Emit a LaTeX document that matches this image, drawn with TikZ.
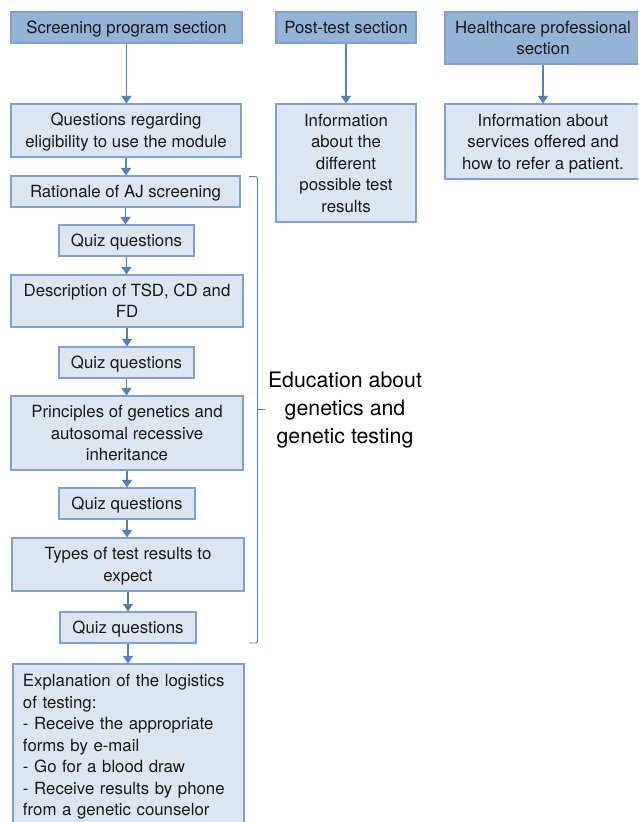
\documentclass[tikz,border=0pt]{standalone}
\usepackage{fontspec}
\setmainfont{TeX Gyre Heros}
\usetikzlibrary{arrows.meta}
\definecolor{hdrfill}{RGB}{149,179,215}
\definecolor{boxfill}{RGB}{220,230,242}
\definecolor{boxline}{RGB}{126,160,210}
\definecolor{arrowc}{RGB}{79,129,189}
\newcommand\mytopstrut{\rule{0pt}{16pt}}
\newcommand\mybotstrut{\rule[-4pt]{0pt}{4pt}}
\tikzset{
  base/.style={draw=boxline, line width=1.2pt, inner sep=0pt, align=center,
    font=\fontsize{16.8}{21.5}\selectfont, text=black!90,
    execute at end node=\mybotstrut},
  hdr/.style={base, fill=hdrfill},
  bx/.style={base, fill=boxfill},
  arr/.style={draw=arrowc, line width=1.5pt, -{Triangle[width=10pt,length=7.5pt]}},
  brk/.style={draw=arrowc, line width=0.9pt}
}
\begin{document}
\begin{tikzpicture}[x=1pt,y=-1pt]
\useasboundingbox (0,0) rectangle (638,822);
\clip (0,0) rectangle (638,822);
% left column
\node[hdr, minimum width=231pt, minimum height=31pt] (s1) at (126.5,27.5) {\mytopstrut Screening program section};
\node[bx, minimum width=230pt, minimum height=53pt] (s2) at (126,130.5) {\mytopstrut Questions regarding\\eligibility to use the module};
\node[bx, minimum width=229pt, minimum height=31pt] (s3) at (125.5,191.5) {\mytopstrut Rationale of AJ screening};
\node[bx, minimum width=135pt, minimum height=31pt] (q1) at (126.5,240.5) {\mytopstrut Quiz questions};
\node[bx, minimum width=232pt, minimum height=52pt] (s4) at (127,301) {\mytopstrut Description of TSD, CD and\\FD};
\node[bx, minimum width=135pt, minimum height=31pt] (q2) at (126.5,362.5) {\mytopstrut Quiz questions};
\node[bx, minimum width=232pt, minimum height=74pt] (s5) at (127,433) {\mytopstrut Principles of genetics and\\autosomal recessive\\inheritance};
\node[bx, minimum width=136pt, minimum height=31pt] (q3) at (127,503.5) {\mytopstrut Quiz questions};
\node[bx, minimum width=232pt, minimum height=53pt] (s6) at (128,564.5) {\mytopstrut Types of test results to\\expect};
\node[bx, minimum width=136pt, minimum height=31pt] (q4) at (128,627.5) {\mytopstrut Quiz questions};
\node[bx, minimum width=231pt, minimum height=162pt, text width=211pt, inner xsep=10pt, align=left,
  execute at begin node=\mytopstrut] (s7) at (128.5,745)
 {Explanation of the logistics\\of testing:\\- Receive the appropriate\\forms by e-mail\\- Go for a blood draw\\- Receive results by phone\\from a genetic counselor};
% middle column
\node[hdr, minimum width=140pt, minimum height=31pt] (p1) at (346,27.5) {\mytopstrut Post-test section};
\node[bx, minimum width=140pt, minimum height=118pt] (p2) at (346,163) {\mytopstrut Information\\about the\\different\\possible test\\results};
% right column
\node[hdr, minimum width=196pt, minimum height=52pt] (h1) at (543,38) {\mytopstrut Healthcare professional\\section};
\node[bx, minimum width=196pt, minimum height=75pt] (h2) at (543,141.5) {\mytopstrut Information about\\services offered and\\how to refer a patient.};
% arrows
\draw[arr] (s1.south) -- (s1.south |- s2.north);
\draw[arr] (s2.south) -- (s2.south |- s3.north);
\draw[arr] (s3.south) -- (s3.south |- q1.north);
\draw[arr] (q1.south) -- (q1.south |- s4.north);
\draw[arr] (s4.south) -- (s4.south |- q2.north);
\draw[arr] (q2.south) -- (q2.south |- s5.north);
\draw[arr] (s5.south) -- (s5.south |- q3.north);
\draw[arr] (q3.south) -- (q3.south |- s6.north);
\draw[arr] (s6.south) -- (s6.south |- q4.north);
\draw[arr] (q4.south) -- (q4.south |- s7.north);
\draw[arr] (p1.south) -- (p2.north);
\draw[arr] (h1.south) -- (h2.north);
% bracket
\coordinate (bt) at (249,176.5);
\coordinate (bb) at (249,643);
\coordinate (bm) at (257.5,409);
\coordinate (btip) at (265,409);
\draw[brk, rounded corners=2pt] (bt) -| (bm) |- (bb);
\draw[brk] (bm) -- (btip);
\node[font=\fontsize{21.3}{28}\selectfont, align=center, inner sep=0pt, anchor=center] (edu) at (345,410)
 {Education about\\genetics and\\genetic testing};
\end{tikzpicture}
\end{document}
